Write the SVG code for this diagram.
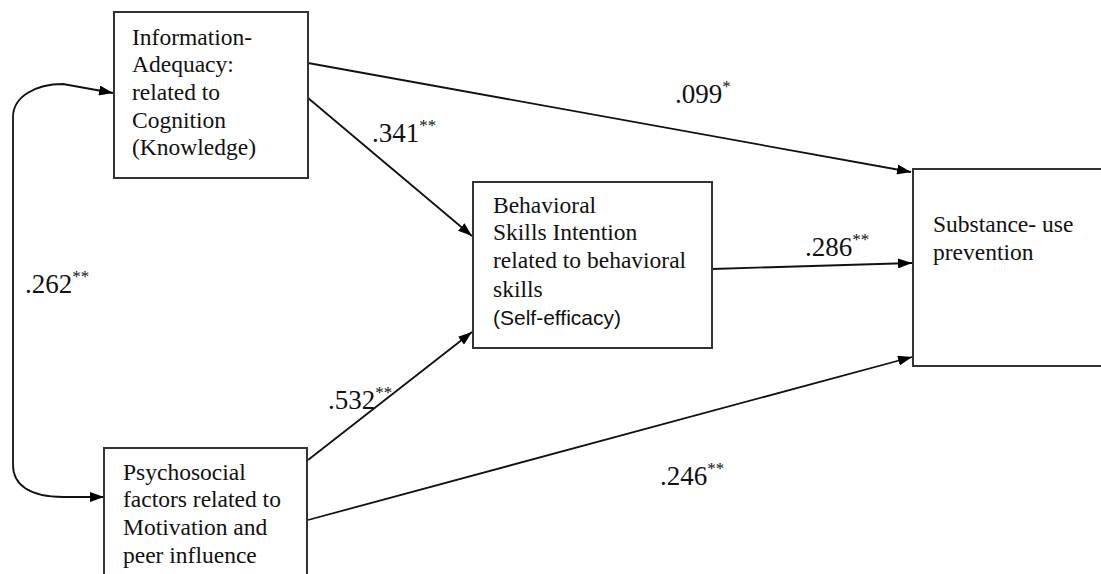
<svg xmlns="http://www.w3.org/2000/svg" width="1101" height="574" viewBox="0 0 1101 574">
<style>
.box{fill:#fff;stroke:#333;stroke-width:2}
.t{font-size:23.5px;fill:#111}
.s{font-size:21px;fill:#111}
.lab{font-size:27px;fill:#111}
.sup{font-size:17px}
.c{fill:none;stroke:#111;stroke-width:1.8}
</style>
<defs>
<marker id="ah" viewBox="0 0 14 10" refX="14" refY="5" markerWidth="14" markerHeight="10" markerUnits="userSpaceOnUse" orient="auto">
<path d="M0,0 L14,5 L0,10 Z" fill="#000"/>
</marker>
</defs>
<rect width="1101" height="574" fill="#fff"/>
<g id="connectors">
<path class="c" d="M13,117 C13,97 35,84 63,84 L113,93" marker-end="url(#ah)"/>
<path class="c" d="M13,117 L13,465"/>
<path class="c" d="M13,465 C13,485 30,497 63,497 L104,497" marker-end="url(#ah)"/>
<line class="c" x1="308" y1="63" x2="911" y2="172" marker-end="url(#ah)"/>
<line class="c" x1="308" y1="98" x2="472" y2="236" marker-end="url(#ah)"/>
<line class="c" x1="712" y1="269" x2="912" y2="263" marker-end="url(#ah)"/>
<line class="c" x1="308" y1="460" x2="472" y2="332" marker-end="url(#ah)"/>
<line class="c" x1="308" y1="520" x2="912" y2="357" marker-end="url(#ah)"/>
</g>
<g id="labels" font-family="Liberation Serif, Times New Roman, serif">
<text class="lab" x="675" y="103">.099<tspan class="sup" dy="-11">*</tspan></text>
<text class="lab" x="372" y="142">.341<tspan class="sup" dy="-11">**</tspan></text>
<text class="lab" x="805" y="256">.286<tspan class="sup" dy="-11">**</tspan></text>
<text class="lab" x="25" y="293">.262<tspan class="sup" dy="-11">**</tspan></text>
<text class="lab" x="328" y="409">.532<tspan class="sup" dy="-11">**</tspan></text>
<text class="lab" x="660" y="485">.246<tspan class="sup" dy="-11">**</tspan></text>
</g>
<g id="node-information" font-family="Liberation Serif, Times New Roman, serif">
<rect class="box" x="114" y="12" width="194" height="166"/>
<text class="t" x="132" y="45">Information-</text>
<text class="t" x="132" y="72">Adequacy:</text>
<text class="t" x="132" y="100">related to</text>
<text class="t" x="132" y="128">Cognition</text>
<text class="t" x="132" y="155">(Knowledge)</text>
</g>
<g id="node-behavioral" font-family="Liberation Serif, Times New Roman, serif">
<rect class="box" x="473" y="182" width="239" height="166"/>
<text class="t" x="493" y="213">Behavioral</text>
<text class="t" x="493" y="240">Skills Intention</text>
<text class="t" x="493" y="268">related to behavioral</text>
<text class="t" x="493" y="297">skills</text>
<text class="s" x="493" y="325" font-family="Liberation Sans, Arial, sans-serif">(Self-efficacy)</text>
</g>
<g id="node-psychosocial" font-family="Liberation Serif, Times New Roman, serif">
<rect class="box" x="104" y="448" width="203" height="140"/>
<text class="t" x="123" y="480">Psychosocial</text>
<text class="t" x="123" y="507">factors related to</text>
<text class="t" x="123" y="535">Motivation and</text>
<text class="t" x="123" y="563">peer influence</text>
</g>
<g id="node-substance" font-family="Liberation Serif, Times New Roman, serif">
<rect class="box" x="913" y="169" width="200" height="197"/>
<text class="t" x="933" y="232">Substance- use</text>
<text class="t" x="933" y="260">prevention</text>
</g>
</svg>
